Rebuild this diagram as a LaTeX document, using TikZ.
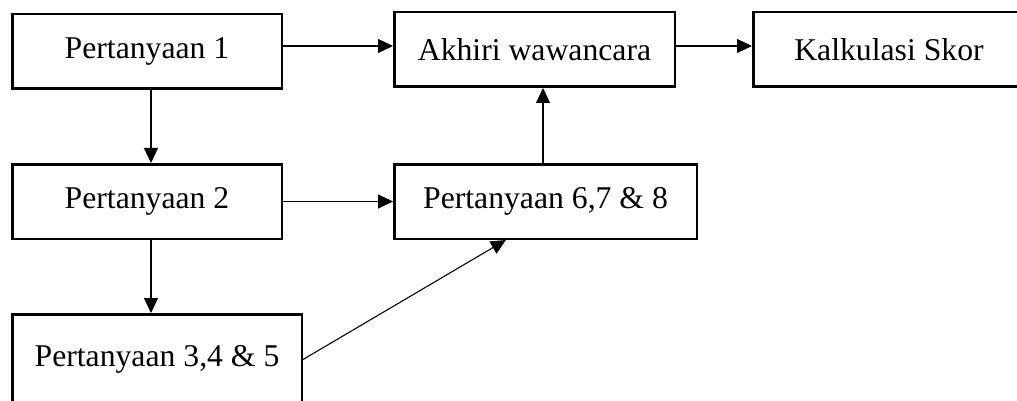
\documentclass[tikz,border=0pt]{standalone}
\usepackage{fontspec}
\setmainfont{Liberation Serif}
\usetikzlibrary{arrows.meta,calc}
\begin{document}
\begin{tikzpicture}[x=1pt,y=-1pt,
  box/.style={draw,line width=2.5pt,inner sep=0pt,minimum height=74.5pt,
    font=\fontsize{31.7}{38}\selectfont},
  arr/.style={line width=1.1pt,-{Triangle[length=15pt,width=14pt]}}]
\useasboundingbox (0,0) rectangle (1017,401);
\fill[white] (0,0) rectangle (1017,401);
\clip (0,0) rectangle (1017,401);

% boxes
\node[box,minimum width=269.5pt] (p1) at (147,51.5) {Pertanyaan 1};
\node[box,minimum width=280.5pt] (akhir) at (534.5,49.5) {Akhiri wawancara};
\node[box,minimum width=271.5pt] (skor) at (889,49.5) {Kalkulasi Skor};
\node[box,minimum width=269.5pt] (p2) at (147,201.5) {Pertanyaan 2};
\node[box,minimum width=302.5pt] (p678) at (545.5,201.5) {Pertanyaan 6,7 \& 8};
\node[box,minimum width=289.5pt,minimum height=90.5pt] (p345) at (157,359.5) {Pertanyaan 3,4 \& 5};

% connectors
\coordinate (s1) at ([yshift=5.5pt]p1.east);
\draw[arr] (s1) -- (s1 -| akhir.west);
\coordinate (s2) at ([yshift=3.5pt]akhir.east);
\draw[arr] (s2) -- (s2 -| skor.west);
\coordinate (s3) at ([xshift=4pt]p1.south);
\draw[arr] (s3) -- (s3 |- p2.north);
\coordinate (s4) at ([xshift=4pt]p2.south);
\draw[arr] (s4) -- (s4 |- p345.north);
\draw[arr] (p2.east) -- (p678.west);
\coordinate (s5) at ([xshift=-2.5pt]p678.north);
\draw[arr] (s5) -- (s5 |- akhir.south);
\coordinate (p678in) at ($(p678.south west)!0.37!(p678.south east)$);
\draw[arr] (p345.east) -- (p678in);
\end{tikzpicture}
\end{document}
